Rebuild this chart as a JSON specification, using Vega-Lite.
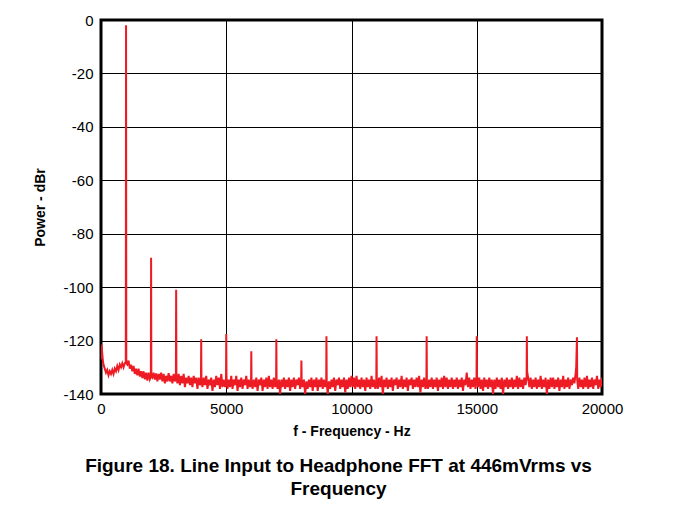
{
  "$schema": "https://vega.github.io/schema/vega-lite/v6.json",
  "width": 501,
  "height": 374,
  "autosize": {"type": "none"},
  "padding": {"left": 101, "top": 20, "right": 71, "bottom": 114},
  "background": "white",
  "title": {
    "text": ["Figure 18. Line Input to Headphone FFT at 446mVrms vs", "Frequency"],
    "orient": "bottom",
    "anchor": "middle",
    "frame": "group",
    "font": "Liberation Sans",
    "fontSize": 19,
    "fontWeight": "bold",
    "color": "black",
    "lineHeight": 23,
    "offset": 19,
    "dx": -13
  },
  "data": {"values": [
    {"f":0,"p":-127},{"f":20,"p":-121.5},{"f":50,"p":-125},{"f":75,"p":-127.5},{"f":100,"p":-129},{"f":150,"p":-130.5},{"f":200,"p":-132},{"f":250,"p":-131},{"f":300,"p":-133},{"f":350,"p":-131.5},{"f":400,"p":-132.5},{"f":450,"p":-131},{"f":500,"p":-132.5},{"f":550,"p":-130.5},{"f":600,"p":-131.5},{"f":650,"p":-129.5},{"f":700,"p":-131},{"f":750,"p":-129},{"f":800,"p":-130},{"f":850,"p":-128.5},{"f":900,"p":-130},{"f":950,"p":-128.5},{"f":990,"p":-128},{"f":1000,"p":-2},{"f":1010,"p":-128.5},{"f":1050,"p":-129},
    {"f":1100,"p":-127.5},{"f":1150,"p":-130.5},{"f":1200,"p":-129},{"f":1250,"p":-131.5},{"f":1300,"p":-129.5},{"f":1350,"p":-132.5},{"f":1400,"p":-130.5},{"f":1450,"p":-133},{"f":1500,"p":-130.5},{"f":1550,"p":-133.5},{"f":1600,"p":-131.5},{"f":1650,"p":-134},{"f":1700,"p":-131.5},{"f":1750,"p":-134.5},{"f":1800,"p":-132},{"f":1850,"p":-135},{"f":1900,"p":-132},{"f":1950,"p":-134.5},{"f":1990,"p":-133.5},{"f":2000,"p":-89},{"f":2010,"p":-133.5},
    {"f":2050,"p":-133.9},{"f":2100,"p":-132},{"f":2150,"p":-134.6},{"f":2200,"p":-132.3},{"f":2250,"p":-135.3},{"f":2300,"p":-132.5},{"f":2350,"p":-134.6},{"f":2400,"p":-132},{"f":2450,"p":-135.3},{"f":2500,"p":-132.5},{"f":2550,"p":-136},{"f":2600,"p":-133.2},{"f":2650,"p":-135.3},{"f":2700,"p":-132.2},{"f":2750,"p":-135.3},{"f":2800,"p":-133.2},{"f":2850,"p":-136},{"f":2900,"p":-132.5},{"f":2950,"p":-135.3},{"f":2990,"p":-133.9},{"f":3000,"p":-101},{"f":3010,"p":-133.2},
    {"f":3050,"p":-136},{"f":3100,"p":-132.5},{"f":3150,"p":-136.7},{"f":3200,"p":-133.2},{"f":3250,"p":-136},{"f":3300,"p":-132.5},{"f":3350,"p":-137.4},{"f":3400,"p":-133.9},{"f":3450,"p":-136},{"f":3500,"p":-133.2},{"f":3550,"p":-136.7},{"f":3600,"p":-133.9},{"f":3650,"p":-137.4},{"f":3700,"p":-133.2},{"f":3750,"p":-136},{"f":3800,"p":-133.9},{"f":3850,"p":-138.1},{"f":3900,"p":-133.9},{"f":3950,"p":-136.7},{"f":3990,"p":-135.3},{"f":4000,"p":-119.5},{"f":4010,"p":-134.6},
    {"f":4050,"p":-137.4},{"f":4100,"p":-133.9},{"f":4150,"p":-136.7},{"f":4200,"p":-133.2},{"f":4250,"p":-138.1},{"f":4300,"p":-134.6},{"f":4350,"p":-136.7},{"f":4400,"p":-133.9},{"f":4450,"p":-138.8},{"f":4500,"p":-134.6},{"f":4550,"p":-137.4},{"f":4600,"p":-133.2},{"f":4650,"p":-136.7},{"f":4700,"p":-133.9},{"f":4750,"p":-138.1},{"f":4800,"p":-132.5},{"f":4850,"p":-137.4},{"f":4900,"p":-134.6},{"f":4950,"p":-137.4},{"f":4990,"p":-135.3},{"f":5000,"p":-117.5},{"f":5010,"p":-133.9},
    {"f":5050,"p":-138.1},{"f":5100,"p":-134.6},{"f":5150,"p":-137.4},{"f":5200,"p":-133.2},{"f":5250,"p":-138.1},{"f":5300,"p":-134.6},{"f":5350,"p":-136.7},{"f":5400,"p":-133.2},{"f":5450,"p":-138.8},{"f":5500,"p":-134.6},{"f":5550,"p":-137.4},{"f":5600,"p":-133.9},{"f":5650,"p":-138.1},{"f":5700,"p":-134.6},{"f":5750,"p":-136.7},{"f":5800,"p":-133.2},{"f":5850,"p":-138.1},{"f":5900,"p":-134.6},{"f":5950,"p":-137.4},{"f":5990,"p":-135.3},{"f":6000,"p":-124},{"f":6010,"p":-135.3},
    {"f":6050,"p":-138.1},{"f":6100,"p":-134.6},{"f":6150,"p":-137.4},{"f":6200,"p":-133.9},{"f":6250,"p":-138.8},{"f":6300,"p":-134.6},{"f":6350,"p":-136.7},{"f":6400,"p":-133.9},{"f":6450,"p":-138.8},{"f":6500,"p":-134.6},{"f":6550,"p":-137.4},{"f":6600,"p":-133.9},{"f":6650,"p":-138.1},{"f":6700,"p":-133.2},{"f":6750,"p":-137.4},{"f":6800,"p":-134.6},{"f":6850,"p":-138.1},{"f":6900,"p":-133.9},{"f":6950,"p":-137.4},{"f":6990,"p":-136},{"f":7000,"p":-119.5},{"f":7010,"p":-135.3},
    {"f":7050,"p":-138.1},{"f":7100,"p":-134.6},{"f":7150,"p":-140},{"f":7200,"p":-134.6},{"f":7250,"p":-137.4},{"f":7300,"p":-133.9},{"f":7350,"p":-138.1},{"f":7400,"p":-134.6},{"f":7450,"p":-137.4},{"f":7500,"p":-133.9},{"f":7550,"p":-138.8},{"f":7600,"p":-134.6},{"f":7650,"p":-137.4},{"f":7700,"p":-133.9},{"f":7750,"p":-138.1},{"f":7800,"p":-134.6},{"f":7850,"p":-136.7},{"f":7900,"p":-133.9},{"f":7950,"p":-138.1},{"f":7990,"p":-135.3},{"f":8000,"p":-127.5},{"f":8010,"p":-134.6},
    {"f":8050,"p":-137.4},{"f":8100,"p":-134.6},{"f":8150,"p":-140},{"f":8200,"p":-135.3},{"f":8250,"p":-138.1},{"f":8300,"p":-134.6},{"f":8350,"p":-137.4},{"f":8400,"p":-133.9},{"f":8450,"p":-138.8},{"f":8500,"p":-134.6},{"f":8550,"p":-137.4},{"f":8600,"p":-133.9},{"f":8650,"p":-138.8},{"f":8700,"p":-134.6},{"f":8750,"p":-137.4},{"f":8800,"p":-133.9},{"f":8850,"p":-138.1},{"f":8900,"p":-134.6},{"f":8950,"p":-137.4},{"f":8990,"p":-136},{"f":9000,"p":-118.4},{"f":9010,"p":-135.3},
    {"f":9050,"p":-140},{"f":9100,"p":-135.3},{"f":9150,"p":-138.1},{"f":9200,"p":-134.6},{"f":9250,"p":-137.4},{"f":9300,"p":-133.9},{"f":9350,"p":-138.8},{"f":9400,"p":-134.6},{"f":9450,"p":-136.7},{"f":9500,"p":-133.9},{"f":9550,"p":-138.1},{"f":9600,"p":-134.6},{"f":9650,"p":-137.4},{"f":9700,"p":-133.9},{"f":9750,"p":-139.5},{"f":9800,"p":-134.6},{"f":9850,"p":-138.1},{"f":9900,"p":-133.9},{"f":9950,"p":-137.4},
    {"f":10000,"p":-133.2},{"f":10050,"p":-137.4},{"f":10100,"p":-133.9},{"f":10150,"p":-138.1},{"f":10200,"p":-133.2},{"f":10250,"p":-137.4},{"f":10300,"p":-134.6},{"f":10350,"p":-138.1},{"f":10400,"p":-133.9},{"f":10450,"p":-137.4},{"f":10500,"p":-134.6},{"f":10550,"p":-138.8},{"f":10600,"p":-133.9},{"f":10650,"p":-137.4},{"f":10700,"p":-134.6},{"f":10750,"p":-138.1},{"f":10800,"p":-133.2},{"f":10850,"p":-137.4},{"f":10900,"p":-134.6},{"f":10950,"p":-138.1},{"f":10990,"p":-135.3},{"f":11000,"p":-118.4},{"f":11010,"p":-134.6},
    {"f":11050,"p":-138.1},{"f":11100,"p":-133.9},{"f":11150,"p":-137.4},{"f":11200,"p":-133.2},{"f":11250,"p":-140},{"f":11300,"p":-134.6},{"f":11350,"p":-137.4},{"f":11400,"p":-133.9},{"f":11450,"p":-138.1},{"f":11500,"p":-134.6},{"f":11550,"p":-137.4},{"f":11600,"p":-133.9},{"f":11650,"p":-138.8},{"f":11700,"p":-134.6},{"f":11750,"p":-136.7},{"f":11800,"p":-133.9},{"f":11850,"p":-138.1},{"f":11900,"p":-134.6},{"f":11950,"p":-137.4},
    {"f":12000,"p":-133.2},{"f":12050,"p":-138.1},{"f":12100,"p":-134.6},{"f":12150,"p":-137.4},{"f":12200,"p":-133.9},{"f":12250,"p":-138.8},{"f":12300,"p":-134.6},{"f":12350,"p":-136.7},{"f":12400,"p":-133.9},{"f":12450,"p":-138.1},{"f":12500,"p":-134.6},{"f":12550,"p":-137.4},{"f":12600,"p":-133.9},{"f":12650,"p":-137.4},{"f":12700,"p":-133.2},{"f":12750,"p":-139.5},{"f":12800,"p":-134.6},{"f":12850,"p":-137.4},{"f":12900,"p":-133.9},{"f":12950,"p":-138.1},{"f":12990,"p":-136},{"f":13000,"p":-118.4},{"f":13010,"p":-135.3},
    {"f":13050,"p":-138.1},{"f":13100,"p":-134.6},{"f":13150,"p":-137.4},{"f":13200,"p":-133.9},{"f":13250,"p":-138.1},{"f":13300,"p":-134.6},{"f":13350,"p":-137.4},{"f":13400,"p":-133.9},{"f":13450,"p":-138.8},{"f":13500,"p":-134.6},{"f":13550,"p":-137.4},{"f":13600,"p":-133.9},{"f":13650,"p":-138.1},{"f":13700,"p":-133.2},{"f":13750,"p":-137.4},{"f":13800,"p":-133.9},{"f":13850,"p":-138.1},{"f":13900,"p":-134.6},{"f":13950,"p":-137.4},
    {"f":14000,"p":-133.9},{"f":14050,"p":-138.1},{"f":14100,"p":-134.6},{"f":14150,"p":-137.4},{"f":14200,"p":-133.9},{"f":14250,"p":-138.1},{"f":14300,"p":-134.6},{"f":14350,"p":-137.4},{"f":14400,"p":-133.9},{"f":14450,"p":-138.8},{"f":14500,"p":-134.6},{"f":14550,"p":-136.7},{"f":14600,"p":-132},{"f":14650,"p":-137.4},{"f":14700,"p":-133.9},{"f":14750,"p":-138.1},{"f":14800,"p":-134.6},{"f":14850,"p":-137.4},{"f":14900,"p":-133.9},{"f":14950,"p":-138.1},{"f":14990,"p":-133.9},{"f":15000,"p":-118.4},{"f":15010,"p":-133.2},
    {"f":15050,"p":-137.4},{"f":15100,"p":-133.9},{"f":15150,"p":-138.1},{"f":15200,"p":-134.6},{"f":15250,"p":-138.8},{"f":15300,"p":-133.9},{"f":15350,"p":-137.4},{"f":15400,"p":-134.6},{"f":15450,"p":-138.1},{"f":15500,"p":-133.9},{"f":15550,"p":-137.4},{"f":15600,"p":-134.6},{"f":15650,"p":-140},{"f":15700,"p":-134.6},{"f":15750,"p":-138.1},{"f":15800,"p":-133.9},{"f":15850,"p":-137.4},{"f":15900,"p":-134.6},{"f":15950,"p":-138.1},
    {"f":16000,"p":-133.9},{"f":16050,"p":-140},{"f":16100,"p":-134.6},{"f":16150,"p":-137.4},{"f":16200,"p":-133.9},{"f":16250,"p":-138.1},{"f":16300,"p":-134.6},{"f":16350,"p":-137.4},{"f":16400,"p":-133.9},{"f":16450,"p":-138.1},{"f":16500,"p":-134.6},{"f":16550,"p":-137.4},{"f":16600,"p":-133.2},{"f":16650,"p":-138.1},{"f":16700,"p":-133.9},{"f":16750,"p":-137.4},{"f":16800,"p":-134.6},{"f":16850,"p":-138.1},{"f":16900,"p":-133.9},{"f":16950,"p":-136.7},{"f":16990,"p":-133.9},{"f":17000,"p":-118.4},{"f":17010,"p":-131.5},{"f":17050,"p":-133.9},
    {"f":17100,"p":-137.4},{"f":17150,"p":-133.9},{"f":17200,"p":-138.1},{"f":17250,"p":-134.6},{"f":17300,"p":-137.4},{"f":17350,"p":-133.9},{"f":17400,"p":-138.1},{"f":17450,"p":-134.6},{"f":17500,"p":-137.4},{"f":17550,"p":-133.2},{"f":17600,"p":-138.1},{"f":17650,"p":-134.6},{"f":17700,"p":-137.4},{"f":17750,"p":-133.9},{"f":17800,"p":-140},{"f":17850,"p":-134.6},{"f":17900,"p":-138.1},{"f":17950,"p":-133.9},
    {"f":18000,"p":-137.4},{"f":18050,"p":-133.9},{"f":18100,"p":-138.1},{"f":18150,"p":-134.6},{"f":18200,"p":-137.4},{"f":18250,"p":-133.9},{"f":18300,"p":-138.8},{"f":18350,"p":-134.6},{"f":18400,"p":-137.4},{"f":18450,"p":-133.2},{"f":18500,"p":-138.1},{"f":18550,"p":-134.6},{"f":18600,"p":-137.4},{"f":18650,"p":-133.9},{"f":18700,"p":-138.1},{"f":18750,"p":-134.6},{"f":18800,"p":-136.7},{"f":18850,"p":-133.9},{"f":18900,"p":-136},{"f":18950,"p":-132},{"f":18970,"p":-130},{"f":19000,"p":-118.8},{"f":19010,"p":-134.6},
    {"f":19050,"p":-138.1},{"f":19100,"p":-133.9},{"f":19150,"p":-137.4},{"f":19200,"p":-134.6},{"f":19250,"p":-138.1},{"f":19300,"p":-133.9},{"f":19350,"p":-137.4},{"f":19400,"p":-133.2},{"f":19450,"p":-138.1},{"f":19500,"p":-134.6},{"f":19550,"p":-137.4},{"f":19600,"p":-133.9},{"f":19650,"p":-138.1},{"f":19700,"p":-134.6},{"f":19750,"p":-136.7},{"f":19800,"p":-133.2},{"f":19850,"p":-138.1},{"f":19900,"p":-134.6},{"f":19950,"p":-137.4},{"f":20000,"p":-133.9}
  ]},
  "mark": {"type": "line", "color": "#ED1C24", "strokeWidth": 2, "clip": true},
  "encoding": {
    "x": {
      "field": "f", "type": "quantitative",
      "scale": {"domain": [0, 20000], "nice": false},
      "axis": {"values": [0, 5000, 10000, 15000, 20000], "format": "d", "labelFlush": false, "title": "f - Frequency - Hz", "labelPadding": 7, "titlePadding": 8}
    },
    "y": {
      "field": "p", "type": "quantitative",
      "scale": {"domain": [-140, 0], "nice": false},
      "axis": {"values": [-140, -120, -100, -80, -60, -40, -20, 0], "labelExpr": "datum.value < 0 ? '-' + abs(datum.value) : '' + datum.value", "labelFlush": false, "title": "Power - dBr", "labelPadding": 8, "titlePadding": 15}
    }
  },
  "config": {
    "view": {"stroke": "black", "strokeWidth": 3},
    "axis": {
      "grid": true, "gridColor": "black", "gridWidth": 1, "gridOpacity": 1,
      "domain": false, "ticks": false,
      "labelFont": "Liberation Sans", "labelFontSize": 15, "labelColor": "black",
      "titleFont": "Liberation Sans", "titleFontSize": 14, "titleFontWeight": "bold", "titleColor": "black"
    }
  }
}
